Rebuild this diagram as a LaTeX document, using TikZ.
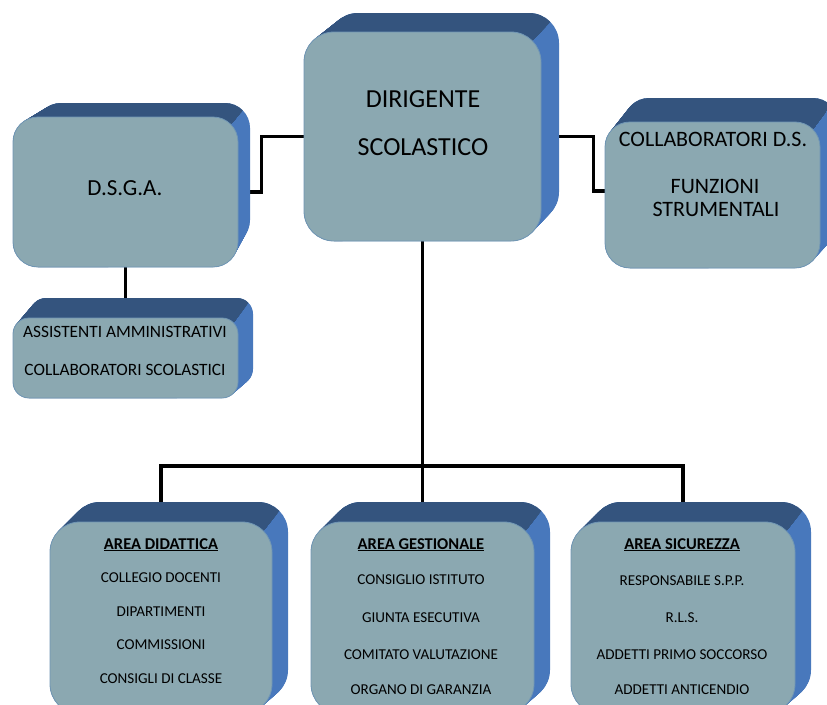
\documentclass[tikz,border=0pt]{standalone}
\usepackage{fontspec}
\setmainfont{Carlito}
\usetikzlibrary{calc}
\pgfdeclarelayer{background}
\pgfsetlayers{background,main}
\definecolor{frontc}{RGB}{139,168,177}
\definecolor{edgec}{RGB}{112,150,180}
\definecolor{topc}{RGB}{52,84,126}
\definecolor{sidec}{RGB}{72,120,188}
\tikzset{
  front/.style={draw=edgec, line width=0.8pt, fill=frontc, inner sep=0pt},
  conn/.style={line width=3.2pt, black},
  lbl/.style={anchor=base, inner sep=0pt, text=black},
  big/.style={font=\fontsize{26}{30}\selectfont},
  mid/.style={font=\fontsize{23}{27}\selectfont},
  cds/.style={font=\fontsize{22}{26}\selectfont},
  sm/.style={font=\fontsize{17.3}{20}\selectfont},
  item/.style={font=\fontsize{15.1}{18}\selectfont},
  ttl/.style={font=\fontsize{16.5}{19}\selectfont\bfseries},
}
% #1 name, #2-#5 front x1 y1 x2 y2, #6-#9 back x1 y1 x2 y2 ; radius in \br
\newcommand{\xbox}[9]{%
  \foreach \i in {0,...,30}{%
    \pgfmathsetmacro\tt{\i/30}%
    \fill[sidec, rounded corners=\br pt] ({#6+\tt*(#2-#6)},{#7+\tt*(#3-#7)}) rectangle ({#8+\tt*(#4-#8)},{#9+\tt*(#5-#9)});
  }
  \coordinate (#1Pf) at ({#4-0.29*\br},{#3+0.29*\br});
  \coordinate (#1Pb) at ({#8-0.29*\br},{#7+0.29*\br});
  \begin{scope}
    \clip ($(#1Pf)!4!(#1Pb)$) -- ($(#1Pf)!-12!(#1Pb)$) -- ++(-1200,0) -- ++(0,-2000) -- cycle;
    \foreach \i in {0,...,30}{%
      \pgfmathsetmacro\tt{\i/30}%
      \fill[topc, rounded corners=\br pt] ({#6+\tt*(#2-#6)},{#7+\tt*(#3-#7)}) rectangle ({#8+\tt*(#4-#8)},{#9+\tt*(#5-#9)});
    }
  \end{scope}
  \node[front, minimum width={(#4-#2)*1pt}, minimum height={(#5-#3)*1pt}, rounded corners=\br pt] (#1) at ({(#2+#4)/2},{(#3+#5)/2}) {};
}
\begin{document}
\begin{tikzpicture}[x=1pt, y=-1pt]
\useasboundingbox (0,0) rectangle (827,704);
\begin{pgfonlayer}{background}
  \fill[white] (0,0) rectangle (827,704);
\end{pgfonlayer}

% boxes
\def\br{30}\xbox{dir}{304}{32}{541}{241}{328}{13}{559}{222}
\def\br{25}\xbox{dsga}{13}{117}{238}{267}{36}{103}{250}{245}
\def\br{25}\xbox{collab}{605}{122}{820}{268}{624}{98}{838}{248}
\def\br{16}\xbox{assist}{13}{318}{238}{398}{30}{298}{253}{385}
\def\br{30}\xbox{did}{50}{522}{272}{714}{70}{502}{288}{700}
\def\br{30}\xbox{gest}{311}{522}{534}{714}{331}{502}{550}{700}
\def\br{30}\xbox{sic}{571}{522}{795}{714}{591}{502}{811}{700}

% connectors
\begin{pgfonlayer}{background}
  \draw[conn] (dir.west) -- ++(-42,0) |- (dsga.east);
  \draw[conn] (dir.east) -- ++(52,0) |- ([yshift=4pt]collab.west);
  \draw[conn] (dsga.south) -- (assist.north);
  \coordinate (bus) at (dir.south |- 0,466);
  \draw[conn] (dir.south) -- (bus);
  \draw[conn] (did.north) |- (bus) -| (sic.north);
  \draw[conn] (bus) -- (gest.north);
\end{pgfonlayer}

% texts
\node[lbl, big] (tdir1) at (423,107) {DIRIGENTE};
\node[lbl, big] (tdir2) at (423,155) {SCOLASTICO};
\node[lbl, mid] (tdsga) at (125,195) {D.S.G.A.};
\node[lbl, cds] (tcol1) at (713,146) {COLLABORATORI D.S.};
\node[lbl, cds] (tcol2) at (715,193) {FUNZIONI};
\node[lbl, cds] (tcol3) at (716,216) {STRUMENTALI};
\node[lbl, sm] (tas1) at (125,337) {ASSISTENTI AMMINISTRATIVI};
\node[lbl, sm] (tas2) at (125,375) {COLLABORATORI SCOLASTICI};

\node[lbl, ttl] (td0) at (161,549) {\underline{AREA DIDATTICA}};
\node[lbl, item] (td1) at (161,582) {COLLEGIO DOCENTI};
\node[lbl, item] (td2) at (161,616) {DIPARTIMENTI};
\node[lbl, item] (td3) at (161,649) {COMMISSIONI};
\node[lbl, item] (td4) at (161,683) {CONSIGLI DI CLASSE};

\node[lbl, ttl] (tg0) at (421,549) {\underline{AREA GESTIONALE}};
\node[lbl, item] (tg1) at (421,584) {CONSIGLIO ISTITUTO};
\node[lbl, item] (tg2) at (421,622) {GIUNTA ESECUTIVA};
\node[lbl, item] (tg3) at (421,659) {COMITATO VALUTAZIONE};
\node[lbl, item] (tg4) at (421,694) {ORGANO DI GARANZIA};

\node[lbl, ttl] (ts0) at (682,549) {\underline{AREA SICUREZZA}};
\node[lbl, item] (ts1) at (682,585) {RESPONSABILE S.P.P.};
\node[lbl, item] (ts2) at (682,622) {R.L.S.};
\node[lbl, item] (ts3) at (682,659) {ADDETTI PRIMO SOCCORSO};
\node[lbl, item] (ts4) at (682,694) {ADDETTI ANTICENDIO};
\end{tikzpicture}
\end{document}
